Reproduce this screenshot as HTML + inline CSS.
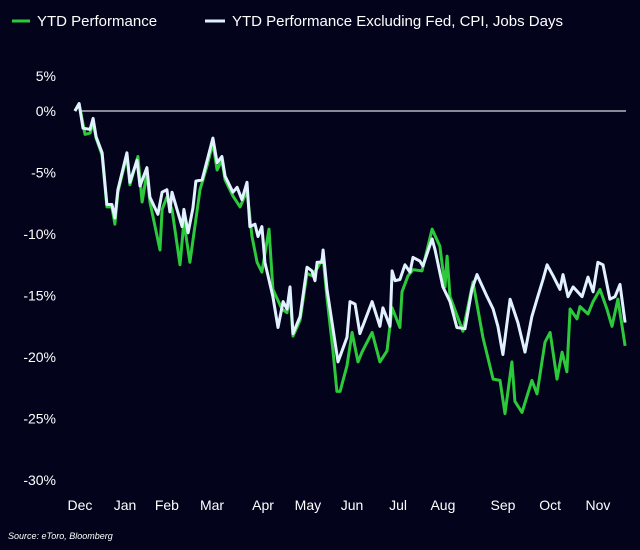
<!DOCTYPE html>
<html><head><meta charset="utf-8"><style>
html,body{margin:0;padding:0;background:#03031c;}
svg{display:block;font-family:"Liberation Sans",sans-serif;}
</style></head><body>
<svg id="chart" width="640" height="550">
<rect width="640" height="550" fill="#03031c"/>
<g>
<g>
<line x1="12" y1="21" x2="30" y2="21" stroke="#2cc93a" stroke-width="3"/>
<text x="37" y="26" fill="#ffffff" font-size="15">YTD Performance</text>
</g>
<g>
<line x1="205" y1="21" x2="225" y2="21" stroke="#e2f1ff" stroke-width="3"/>
<text x="232" y="26" fill="#ffffff" font-size="15">YTD Performance Excluding Fed, CPI, Jobs Days</text>
</g>
</g>
<g id="yaxis"></g>
<g id="xaxis"></g>
<line x1="80" y1="111" x2="626" y2="111" stroke="#b8b8c0" stroke-width="1.5"/>
<g id="series"></g>
<text x="8" y="539" fill="#ffffff" font-size="9" font-style="italic">Source: eToro, Bloomberg</text>
</svg>
<script>
const yTicks=[5,0,-5,-10,-15,-20,-25,-30];
const months=["Dec","Jan","Feb","Mar","Apr","May","Jun","Jul","Aug","Sep","Oct","Nov"];
const monthDays=[2.6,22.2,40.4,60,82.2,101.7,120.9,140.9,160.4,186.5,207,227.8];
const exDays=[0.4,2.2,3.9,7,8.3,9.6,12.2,14.3,16.5,17.8,19.1,23,24.3,27.4,28.7,31.7,33,36.5,38.3,40.4,41.7,42.6,44.8,47,47.8,49.6,51.7,53,55.7,57.8,60.4,62.2,64.3,65.7,69.1,70.9,73,75.2,76.5,78.7,80,81.7,83,86.5,88.7,90.9,92.6,93.9,95.2,98.3,101.3,103.5,104.8,105.7,107.8,108.3,110,112.6,114.8,118.7,120,122.2,124.3,129.6,133,134.3,137.4,138.3,139.6,141.7,143.9,146.1,147.4,150.4,151.7,155.7,157,160.4,163.5,166.5,170,173,175.2,179.6,182.2,184.3,186.5,189.6,193,196.1,199.1,201.3,203.9,205.7,208.3,211.3,212.6,214.8,217,220.9,223.5,225.7,227.8,230,233,235.2,237.4,239.6];
const exValues=[0,0.6,-1.4,-1.5,-0.6,-2.1,-3.4,-7.6,-7.6,-8.7,-6.4,-3.4,-5.8,-4.0,-6.1,-4.6,-7.0,-8.4,-6.6,-6.4,-8.2,-6.6,-8.0,-9.4,-8.0,-9.9,-7.9,-5.7,-5.6,-4.1,-2.2,-4.2,-3.7,-5.3,-6.6,-6.2,-7.2,-5.8,-9.4,-9.2,-10.2,-9.4,-12.3,-15.1,-17.6,-15.5,-16.1,-14.3,-18.1,-16.7,-12.7,-13.0,-13.8,-12.3,-12.3,-11.3,-14.5,-17.7,-20.4,-18.4,-15.5,-15.7,-18.1,-15.5,-17.5,-16.0,-17.5,-13.0,-13.8,-13.7,-12.5,-13.1,-11.9,-12.2,-12.6,-10.4,-11.3,-14.3,-15.5,-17.6,-17.7,-14.5,-13.3,-15.1,-16.1,-17.5,-19.8,-15.3,-17.2,-19.6,-16.7,-15.3,-13.7,-12.5,-13.4,-14.5,-13.3,-15.1,-14.3,-15.1,-13.5,-14.7,-12.3,-12.5,-15.3,-15.1,-14.1,-17.2];
const ytdDays=[0.4,2.2,4.8,7.0,8.3,9.6,12.2,14.3,16.5,17.8,19.1,23.0,24.3,27.8,29.6,31.7,33.0,37.4,38.3,40.4,42.6,46.1,47.8,50.4,54.8,57.8,60.4,62.2,64.3,65.7,69.1,72.2,75.2,77.4,79.6,81.7,84.8,86.5,90.4,92.6,93.9,95.2,98.3,101.3,103.5,105.7,108.3,110.0,112.6,114.3,115.7,118.7,120.9,123.5,125.2,129.6,133.0,136.1,138.3,141.7,142.6,145.2,147.4,151.3,155.7,159.1,161.3,162.2,163.5,169.1,173.5,177.8,182.2,185.2,187.4,190.4,191.7,194.8,199.1,201.3,204.8,207.0,210.0,212.2,214.3,215.7,218.7,220.0,223.5,225.7,228.7,231.7,233.9,236.5,238.3,239.6];
const ytdValues=[0,0.6,-1.9,-1.8,-0.9,-2.2,-3.6,-7.8,-7.8,-9.2,-6.6,-3.6,-6.0,-3.7,-7.4,-5.0,-7.4,-11.3,-8.0,-7.0,-8.0,-12.5,-9.0,-12.3,-6.4,-4.5,-2.6,-4.8,-4.0,-5.6,-6.9,-7.8,-6.5,-10.2,-12.3,-13.1,-9.6,-14.5,-16.1,-16.4,-14.8,-18.3,-17.0,-13.2,-13.4,-12.8,-11.9,-15.2,-19.5,-22.8,-22.8,-20.7,-18.0,-20.4,-19.6,-18.0,-20.4,-19.5,-16.0,-17.6,-14.7,-13.4,-12.9,-13.0,-9.6,-11.0,-14.3,-11.8,-15.1,-17.9,-13.9,-18.4,-21.8,-21.9,-24.6,-20.4,-23.6,-24.5,-21.9,-23.0,-18.8,-18.0,-21.8,-19.6,-21.2,-16.1,-16.9,-15.9,-16.5,-15.5,-14.5,-16.1,-17.5,-15.3,-17.5,-19.1];

const NS="http://www.w3.org/2000/svg";
function xS(d){return 74+d*2.3;}
function yS(v){return 111-v*12.3;}
const yAxis=document.getElementById('yaxis');
yTicks.forEach(v=>{
  const t=document.createElementNS(NS,'text');
  
  
  t.setAttribute('x',56);t.setAttribute('y',Math.max(yS(v),76)+5);
  t.setAttribute('text-anchor','end');t.setAttribute('fill','#ffffff');t.setAttribute('font-size','14');
  t.textContent=v+'%';yAxis.appendChild(t);
});
const xAxis=document.getElementById('xaxis');
months.forEach((m,i)=>{
  const t=document.createElementNS(NS,'text');
  
  
  t.setAttribute('x',xS(monthDays[i]));t.setAttribute('y',510);
  t.setAttribute('text-anchor','middle');t.setAttribute('fill','#ffffff');t.setAttribute('font-size','14');
  t.textContent=m;xAxis.appendChild(t);
});
const g=document.getElementById('series');
function line(days,vals,color,name){
  const p=document.createElementNS(NS,'polyline');
  
  
  p.setAttribute('points',days.map((d,i)=>xS(d).toFixed(1)+','+yS(vals[i]).toFixed(1)).join(' '));
  p.setAttribute('fill','none');p.setAttribute('stroke',color);p.setAttribute('stroke-width','3');
  p.setAttribute('stroke-linejoin','round');
  g.appendChild(p);
}
line(ytdDays,ytdValues,'#2cc93a','ytd-performance-line');
line(exDays,exValues,'#e2f1ff','ytd-excluding-line');
</script>
</body></html>
